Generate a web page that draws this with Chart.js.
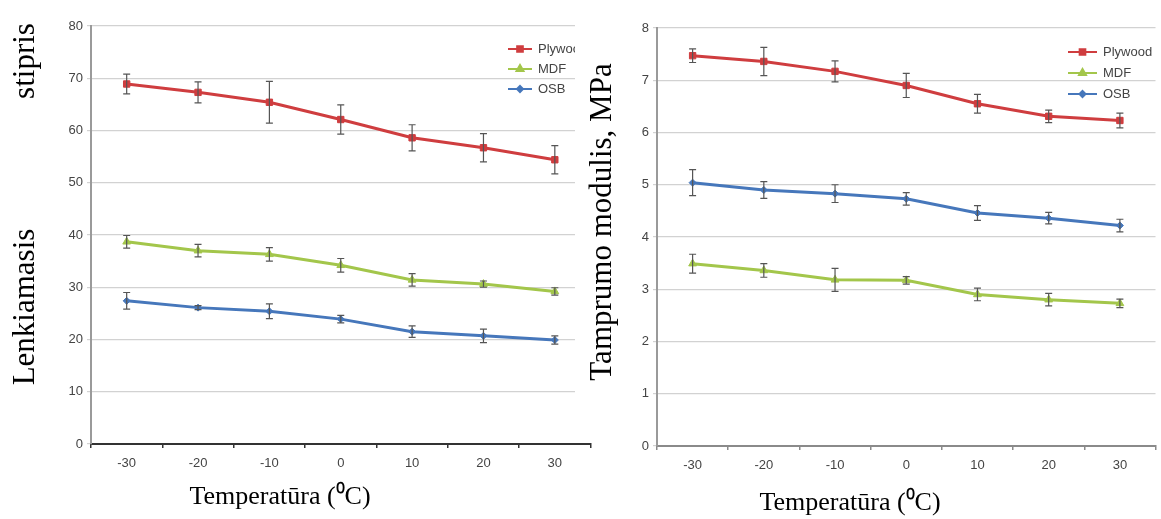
<!DOCTYPE html>
<html>
<head>
<meta charset="utf-8">
<script src="https://cdn.jsdelivr.net/npm/chart.js@4.4.0/dist/chart.umd.min.js"></script>
<style>
    html, body { margin: 0; padding: 0; background: #fff; }
    #wrap { position: relative; width: 1161px; height: 519px; overflow: hidden; background: #fff; }
    #left { position: absolute; left: 0; top: 0; }
    #right { position: absolute; left: 575px; top: 0; }
</style>
</head>
<body>
<div id="wrap">
    <canvas id="left" width="596" height="519"></canvas>
    <canvas id="right" width="586" height="519"></canvas>
</div>
<script>
// Data

var temps = ['-30', '-20', '-10', '0', '10', '20', '30'];

// bending strength (left)
var strengthPlywood = [68.9, 67.3, 65.4, 62.1, 58.6, 56.7, 54.4];
var strengthPlywoodErr = [1.9, 2.0, 4.0, 2.8, 2.5, 2.7, 2.7];
var strengthMdf = [38.7, 37.0, 36.3, 34.2, 31.4, 30.6, 29.2];
var strengthMdfErr = [1.2, 1.2, 1.3, 1.3, 1.2, 0.6, 0.7];
var strengthOsb = [27.4, 26.1, 25.4, 23.9, 21.5, 20.7, 19.9];
var strengthOsbErr = [1.6, 0.4, 1.4, 0.7, 1.1, 1.3, 0.8];

// modulus (right)
var modulusPlywood = [7.47, 7.36, 7.17, 6.90, 6.55, 6.31, 6.23];
var modulusPlywoodErr = [0.13, 0.27, 0.2, 0.23, 0.18, 0.12, 0.14];
var modulusMdf = [3.49, 3.36, 3.18, 3.17, 2.90, 2.80, 2.73];
var modulusMdfErr = [0.18, 0.13, 0.22, 0.07, 0.12, 0.12, 0.08];
var modulusOsb = [5.04, 4.90, 4.83, 4.73, 4.46, 4.36, 4.22];
var modulusOsbErr = [0.25, 0.16, 0.17, 0.12, 0.14, 0.11, 0.12];

var RED = '#cf3d3f';
var GREEN = '#a3c64b';
var BLUE = '#4677bb';

// Plugins

// error bars from dataset.errors
var errorBars = {
    id: 'errorBars',
    afterDatasetsDraw: function(chart) {
        var ctx = chart.ctx;
        var yScale = chart.scales.y;
        ctx.save();
        ctx.strokeStyle = '#555';
        ctx.lineWidth = 1.2;
        chart.data.datasets.forEach(function(ds, di) {
            var meta = chart.getDatasetMeta(di);
            meta.data.forEach(function(pt, i) {
                var e = ds.errors[i];
                var top = yScale.getPixelForValue(ds.data[i] + e);
                var bot = yScale.getPixelForValue(ds.data[i] - e);
                ctx.beginPath();
                ctx.moveTo(pt.x, top); ctx.lineTo(pt.x, bot);
                ctx.moveTo(pt.x - 3.5, top); ctx.lineTo(pt.x + 3.5, top);
                ctx.moveTo(pt.x - 3.5, bot); ctx.lineTo(pt.x + 3.5, bot);
                ctx.stroke();
            });
        });
        ctx.restore();
    }
};

// small legend inside the plot
var boxLegend = {
    id: 'boxLegend',
    afterDraw: function(chart, args, opts) {
        var ctx = chart.ctx;
        ctx.save();
        chart.data.datasets.forEach(function(ds, i) {
            var y = opts.y + i * opts.gap;
            ctx.strokeStyle = ds.borderColor;
            ctx.fillStyle = ds.borderColor;
            ctx.lineWidth = 2;
            ctx.beginPath();
            ctx.moveTo(opts.x, y);
            ctx.lineTo(opts.x + opts.len, y);
            ctx.stroke();
            Chart.helpers.drawPoint(ctx, {
                pointStyle: ds.pointStyle, radius: ds.pointRadius - 0.5, rotation: 0, borderWidth: 1
            }, opts.x + opts.len / 2, y);
            ctx.fillStyle = '#444';
            ctx.font = '13px "Liberation Sans", Arial, sans-serif';
            ctx.textAlign = 'left';
            ctx.textBaseline = 'middle';
            ctx.fillText(ds.label, opts.x + opts.len + 6, y);
        });
        ctx.restore();
    }
};

// serif axis titles placed freely
var freeTitles = {
    id: 'freeTitles',
    beforeDraw: function(chart, args, opts) {
        var ctx = chart.ctx;
        if (opts.cover) {
            ctx.save();
            ctx.fillStyle = '#fff';
            ctx.fillRect(opts.cover[0], opts.cover[1], opts.cover[2], opts.cover[3]);
            ctx.restore();
        }
    },
    afterDraw: function(chart, args, opts) {
        var ctx = chart.ctx;
        ctx.save();
        ctx.fillStyle = '#000';
        ctx.textAlign = 'center';
        ctx.textBaseline = 'middle';
        (opts.items || []).forEach(function(t) {
            ctx.save();
            ctx.font = t.size + 'px "Liberation Serif", "Times New Roman", serif';
            ctx.translate(t.x, t.y);
            if (t.rot) ctx.rotate(-Math.PI / 2);
            ctx.fillText(t.text, 0, 0);
            ctx.restore();
        });
        ctx.restore();
    }
};

function series(label, data, errors, color, style, radius) {
    return {
        label: label,
        data: data,
        errors: errors,
        borderColor: color,
        backgroundColor: color,
        borderWidth: 3,
        pointStyle: style,
        pointRadius: radius,
        pointBorderWidth: 1,
        tension: 0
    };
}

function makeChart(id, datasets, cfg) {
    return new Chart(document.getElementById(id), {
        type: 'line',
        data: { labels: temps, datasets: datasets },
        plugins: [errorBars, boxLegend, freeTitles],
        options: {
            responsive: false,
            animation: false,
            layout: { padding: cfg.padding },
            plugins: {
                legend: { display: false },
                tooltip: { enabled: false },
                boxLegend: cfg.legend,
                freeTitles: cfg.titles
            },
            scales: {
                x: {
                    offset: true,
                    grid: { offset: true, drawOnChartArea: false, tickLength: 4, color: cfg.xColor, lineWidth: 1.5 },
                    border: { color: cfg.xColor, width: 2 },
                    ticks: { color: '#444', padding: 8, font: { size: 13, family: '"Liberation Sans", Arial, sans-serif' } },
                    afterFit: function(s) { s.height = cfg.xHeight; }
                },
                y: {
                    min: 0,
                    max: cfg.max,
                    ticks: { stepSize: cfg.step, color: '#444', padding: 4, font: { size: 13, family: '"Liberation Sans", Arial, sans-serif' } },
                    grid: { color: '#d2d2d2', tickLength: 4, lineWidth: 1.2 },
                    border: { color: '#9a9a9a', width: 2 },
                    afterFit: function(s) { s.width = cfg.yWidth; }
                }
            }
        }
    });
}

// Left chart: bending strength
makeChart('left', [
    series('Plywood', strengthPlywood, strengthPlywoodErr, RED, 'rect', 4.5),
    series('MDF', strengthMdf, strengthMdfErr, GREEN, 'triangle', 4.5),
    series('OSB', strengthOsb, strengthOsbErr, BLUE, 'rectRot', 3.5)
], {
    max: 80, step: 10,
    padding: { top: 26, right: 1, bottom: 0, left: 0 },
    yWidth: 91, xHeight: 75, xColor: '#333',
    legend: { x: 508, y: 49, gap: 20, len: 24 },
    titles: {
        items: [
            { text: 'stipris', x: 26, y: 61, size: 31, rot: true },
            { text: 'Lenkiamasis', x: 26, y: 307, size: 31, rot: true },
            { text: 'Temperatūra (⁰C)', x: 280, y: 497, size: 26 }
        ]
    }
});

// Right chart: modulus
makeChart('right', [
    series('Plywood', modulusPlywood, modulusPlywoodErr, RED, 'rect', 4.5),
    series('MDF', modulusMdf, modulusMdfErr, GREEN, 'triangle', 4.5),
    series('OSB', modulusOsb, modulusOsbErr, BLUE, 'rectRot', 3.5)
], {
    max: 8, step: 1,
    padding: { top: 28, right: 3, bottom: 0, left: 0 },
    yWidth: 82, xHeight: 73, xColor: '#8a8a8a',
    legend: { x: 493, y: 52, gap: 21, len: 29 },
    titles: {
        cover: [0, 0, 45, 430],
        items: [
            { text: 'Tamprumo modulis, MPa', x: 28, y: 222, size: 31, rot: true },
            { text: 'Temperatūra (⁰C)', x: 275, y: 503, size: 26 }
        ]
    }
});
</script>
</body>
</html>
